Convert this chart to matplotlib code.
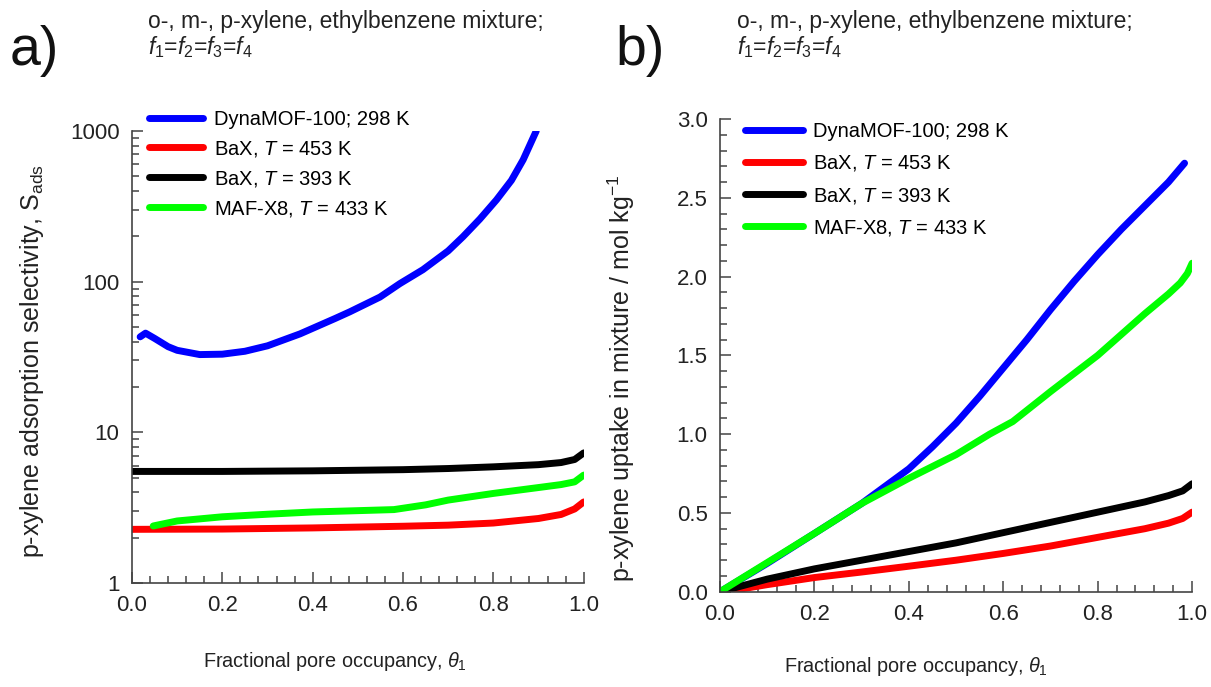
import numpy as np
import matplotlib
matplotlib.use('Agg')
import matplotlib.pyplot as plt
from matplotlib.ticker import MultipleLocator, FixedLocator, NullFormatter

plt.rcParams['font.family'] = ['Liberation Sans', 'DejaVu Sans']
plt.rcParams['mathtext.fontset'] = 'custom'
plt.rcParams['mathtext.rm'] = 'Liberation Sans'
plt.rcParams['mathtext.it'] = 'Liberation Sans:italic'

# Series labels and colours
LABELS = ['DynaMOF-100; 298 K', 'BaX, $T$ = 453 K', 'BaX, $T$ = 393 K', 'MAF-X8, $T$ = 433 K']
COLORS = ['#0000ff', '#ff0000', '#000000', '#00ff00']

# (a) adsorption selectivity vs fractional pore occupancy
sel_dyna_theta = [0.018, 0.03, 0.05, 0.08, 0.10, 0.15, 0.20, 0.25, 0.30, 0.372, 0.45, 0.482,
                  0.549, 0.593, 0.644, 0.70, 0.733, 0.77, 0.807, 0.84, 0.866, 0.895]
sel_dyna = [43, 45.5, 42, 37, 35, 32.8, 33, 34.5, 37.5, 45, 57, 63,
            79, 97, 120, 160, 199, 260, 349, 470, 644, 1000]

sel_bax453_theta = [0.0, 0.2, 0.4, 0.6, 0.7, 0.8, 0.9, 0.95, 0.98, 1.0]
sel_bax453 = [2.27, 2.28, 2.32, 2.38, 2.42, 2.50, 2.68, 2.85, 3.10, 3.45]

sel_bax393_theta = [0.0, 0.2, 0.4, 0.6, 0.7, 0.8, 0.9, 0.95, 0.98, 1.0]
sel_bax393 = [5.5, 5.5, 5.55, 5.65, 5.75, 5.9, 6.1, 6.3, 6.6, 7.3]

sel_maf_theta = [0.047, 0.1, 0.2, 0.3, 0.4, 0.5, 0.58, 0.65, 0.7, 0.8, 0.9, 0.95, 0.98, 1.0]
sel_maf = [2.39, 2.58, 2.75, 2.86, 2.96, 3.02, 3.07, 3.3, 3.55, 3.93, 4.3, 4.5, 4.69, 5.2]

# (b) p-xylene uptake vs fractional pore occupancy
up_dyna_theta = [0.0, 0.1, 0.2, 0.3, 0.4, 0.45, 0.5, 0.55, 0.6, 0.65, 0.7, 0.75, 0.8, 0.85, 0.9, 0.95, 0.984]
up_dyna = [0.0, 0.18, 0.37, 0.56, 0.78, 0.92, 1.07, 1.24, 1.42, 1.60, 1.79, 1.97, 2.14, 2.30, 2.45, 2.60, 2.72]

up_bax453_theta = [0.0, 0.05, 0.1, 0.2, 0.3, 0.4, 0.5, 0.6, 0.7, 0.8, 0.9, 0.95, 0.98, 1.0]
up_bax453 = [0.0, 0.02, 0.045, 0.09, 0.125, 0.162, 0.2, 0.243, 0.29, 0.345, 0.4, 0.435, 0.465, 0.505]

up_bax393_theta = [0.0, 0.05, 0.1, 0.2, 0.3, 0.4, 0.5, 0.6, 0.7, 0.8, 0.9, 0.95, 0.98, 1.0]
up_bax393 = [0.0, 0.04, 0.08, 0.145, 0.2, 0.255, 0.31, 0.375, 0.44, 0.505, 0.57, 0.61, 0.64, 0.685]

up_maf_theta = [0.0, 0.1, 0.2, 0.3, 0.4, 0.5, 0.571, 0.62, 0.7, 0.8, 0.9, 0.95, 0.975, 0.99, 1.0]
up_maf = [0.0, 0.185, 0.37, 0.56, 0.72, 0.87, 1.0, 1.08, 1.27, 1.5, 1.765, 1.89, 1.96, 2.02, 2.085]

HEADER = 'o-, m-, p-xylene, ethylbenzene mixture;\n$f_1$=$f_2$=$f_3$=$f_4$'
XLABEL = r'Fractional pore occupancy, $\theta_1$'

LW = 5
TICK_FS = 16
LABEL_FS = 14.3
YLABEL_FS = 18
LEG_FS = 14.5


def style_axes(ax):
    for s in ['top', 'right']:
        ax.spines[s].set_visible(False)
    for s in ['left', 'bottom']:
        ax.spines[s].set_color('#444444')
        ax.spines[s].set_linewidth(1.2)
    ax.tick_params(which='both', direction='in', color='#444444', width=1.1,
                   labelsize=TICK_FS, labelcolor='#222222')
    ax.tick_params(which='major', length=8, pad=9)
    ax.tick_params(which='minor', length=5)
    ax.set_xlim(0, 1)
    ax.xaxis.set_major_locator(MultipleLocator(0.2))
    ax.xaxis.set_minor_locator(MultipleLocator(0.04))
    ax.xaxis.set_major_formatter(matplotlib.ticker.FormatStrFormatter('%.1f'))
    ax.set_xlabel(XLABEL, fontsize=LABEL_FS, color='#222222')


fig = plt.figure(figsize=(12.11, 6.87), dpi=100)
ax1 = fig.add_axes([0.109, 0.1514, 0.373, 0.658])
ax2 = fig.add_axes([0.5946, 0.1387, 0.3898, 0.688])

# panel a
ax1.plot(sel_dyna_theta, sel_dyna, color=COLORS[0], lw=LW, solid_capstyle='round', label=LABELS[0])
ax1.plot(sel_bax453_theta, sel_bax453, color=COLORS[1], lw=LW, solid_capstyle='round', label=LABELS[1])
ax1.plot(sel_bax393_theta, sel_bax393, color=COLORS[2], lw=LW, solid_capstyle='round', label=LABELS[2])
ax1.plot(sel_maf_theta, sel_maf, color=COLORS[3], lw=LW, solid_capstyle='round', label=LABELS[3])
ax1.set_yscale('log')
ax1.set_ylim(1, 1000)
style_axes(ax1)
ax1.yaxis.set_major_locator(FixedLocator([1, 10, 100, 1000]))
ax1.yaxis.set_major_formatter(matplotlib.ticker.FuncFormatter(lambda v, p: '%d' % v))
ax1.yaxis.set_minor_locator(matplotlib.ticker.LogLocator(base=10, subs=np.arange(2, 10)))
ax1.yaxis.set_minor_formatter(NullFormatter())
ax1.set_ylabel('p-xylene adsorption selectivity, S$_{\\rm ads}$', fontsize=YLABEL_FS,
               color='#222222')
ax1.xaxis.set_label_coords(0.45, -0.148)
ax1.yaxis.set_label_coords(-0.19, 0.49)
ax1.legend(loc='upper left', bbox_to_anchor=(0.02, 1.065), frameon=False, fontsize=LEG_FS,
           handlelength=2.7, handletextpad=0.5, labelspacing=0.5, borderaxespad=0)

# panel b
ax2.plot(up_dyna_theta, up_dyna, color=COLORS[0], lw=LW, solid_capstyle='round', label=LABELS[0])
ax2.plot(up_bax453_theta, up_bax453, color=COLORS[1], lw=LW, solid_capstyle='round', label=LABELS[1])
ax2.plot(up_bax393_theta, up_bax393, color=COLORS[2], lw=LW, solid_capstyle='round', label=LABELS[2])
ax2.plot(up_maf_theta, up_maf, color=COLORS[3], lw=LW, solid_capstyle='round', label=LABELS[3])
ax2.set_ylim(0, 3.0)
style_axes(ax2)
ax2.yaxis.set_major_locator(MultipleLocator(0.5))
ax2.yaxis.set_minor_locator(MultipleLocator(0.1))
ax2.yaxis.set_major_formatter(matplotlib.ticker.FormatStrFormatter('%.1f'))
ax2.set_ylabel('p-xylene uptake in mixture / mol kg$^{-1}$', fontsize=YLABEL_FS,
               color='#222222')
ax2.xaxis.set_label_coords(0.415, -0.134)
ax2.yaxis.set_label_coords(-0.176, 0.452)
ax2.legend(loc='upper left', bbox_to_anchor=(0.035, 1.01), frameon=False, fontsize=LEG_FS,
           handlelength=2.9, handletextpad=0.5, labelspacing=0.6, borderaxespad=0)

# panel letters and headers
fig.text(0.008, 0.905, 'a)', fontsize=40, color='#111111')
fig.text(0.508, 0.905, 'b)', fontsize=40, color='#111111')
fig.text(0.122, 0.985, HEADER, fontsize=16.5, color='#222222', linespacing=1.05, va='top')
fig.text(0.609, 0.985, HEADER, fontsize=16.5, color='#222222', linespacing=1.05, va='top')

fig.savefig('out.png', dpi=100)
